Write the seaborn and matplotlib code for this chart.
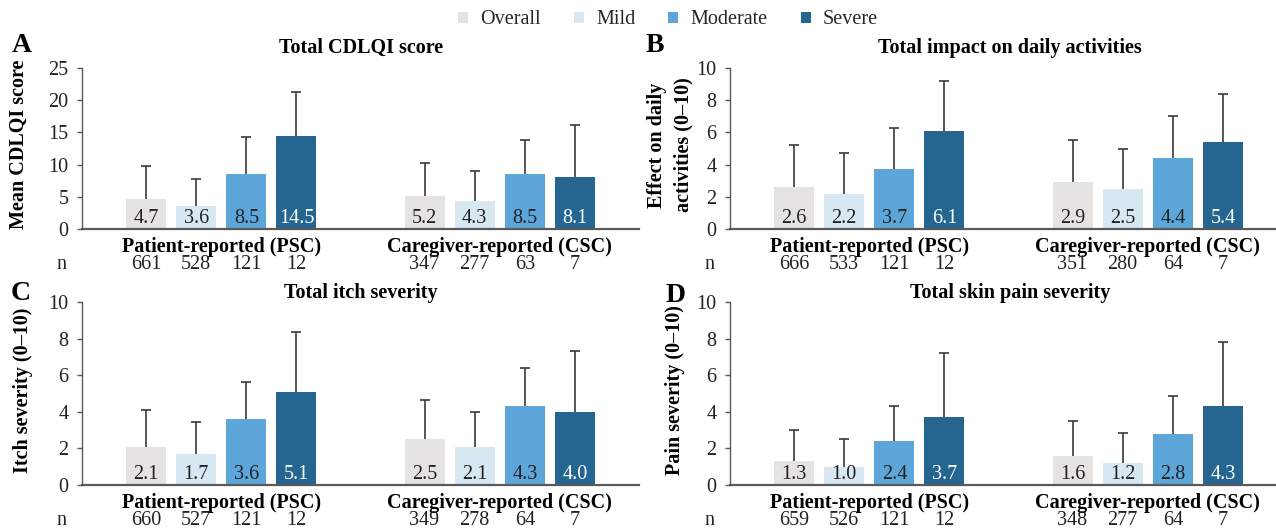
import matplotlib
matplotlib.use("Agg")
import matplotlib.pyplot as plt
from matplotlib.patches import Patch
import seaborn as sns
import pandas as pd

# ---------------- data ----------------
groups = ["Patient-reported (PSC)", "Caregiver-reported (CSC)"]
severities = ["Overall", "Mild", "Moderate", "Severe"]
colors = ["#E4E3E1", "#D7E8F3", "#5DA6DA", "#256690"]

# Panel A: Total CDLQI score
a_mean_psc = [4.7, 3.6, 8.5, 14.5]
a_sd_psc = [5.1, 4.2, 5.8, 6.7]
a_mean_csc = [5.2, 4.3, 8.5, 8.1]
a_sd_csc = [5.1, 4.7, 5.3, 8.1]
a_n_psc = [661, 528, 121, 12]
a_n_csc = [347, 277, 63, 7]

# Panel B: Total impact on daily activities
b_mean_psc = [2.6, 2.2, 3.7, 6.1]
b_sd_psc = [2.6, 2.5, 2.6, 3.1]
b_mean_csc = [2.9, 2.5, 4.4, 5.4]
b_sd_csc = [2.65, 2.5, 2.6, 3.0]
b_n_psc = [666, 533, 121, 12]
b_n_csc = [351, 280, 64, 7]

# Panel C: Total itch severity
c_mean_psc = [2.1, 1.7, 3.6, 5.1]
c_sd_psc = [2.0, 1.75, 2.05, 3.25]
c_mean_csc = [2.5, 2.1, 4.3, 4.0]
c_sd_csc = [2.15, 1.9, 2.1, 3.3]
c_n_psc = [660, 527, 121, 12]
c_n_csc = [349, 278, 64, 7]

# Panel D: Total skin pain severity
d_mean_psc = [1.3, 1.0, 2.4, 3.7]
d_sd_psc = [1.7, 1.5, 1.9, 3.5]
d_mean_csc = [1.6, 1.2, 2.8, 4.3]
d_sd_csc = [1.9, 1.65, 2.05, 3.5]
d_n_psc = [659, 526, 121, 12]
d_n_csc = [348, 277, 64, 7]

panels = [
    dict(letter="A", title="Total CDLQI score", ylabel="Mean CDLQI score",
         mean=(a_mean_psc, a_mean_csc), sd=(a_sd_psc, a_sd_csc), n=(a_n_psc, a_n_csc),
         ymax=25, step=5),
    dict(letter="B", title="Total impact on daily activities",
         ylabel="Effect on daily\nactivities (0\u201310)",
         mean=(b_mean_psc, b_mean_csc), sd=(b_sd_psc, b_sd_csc), n=(b_n_psc, b_n_csc),
         ymax=10, step=2),
    dict(letter="C", title="Total itch severity", ylabel="Itch severity (0\u201310)",
         mean=(c_mean_psc, c_mean_csc), sd=(c_sd_psc, c_sd_csc), n=(c_n_psc, c_n_csc),
         ymax=10, step=2),
    dict(letter="D", title="Total skin pain severity", ylabel="Pain severity (0\u201310)",
         mean=(d_mean_psc, d_mean_csc), sd=(d_sd_psc, d_sd_csc), n=(d_n_psc, d_n_csc),
         ymax=10, step=2),
]

# ---------------- style ----------------
sns.set_theme(style="white")
plt.rcParams["font.family"] = ["Liberation Serif", "DejaVu Serif"]
FS = 14.5
plt.rcParams["font.size"] = FS
TXT = "#222222"
AXC = "#595959"

W, H = 1276, 528
fig = plt.figure(figsize=(W / 100, H / 100), dpi=100)

# axes boxes in pixels: (x_left, x_right, y_top, y_bottom)
boxes = [(82, 639, 68, 229), (730, 1276, 68, 229), (82, 639, 302, 485), (730, 1276, 302, 485)]
title_x = [361, 1010, 361, 1010]
title_y = [48, 48, 293, 293]
letter_xy = [(22, 46), (655, 46), (21, 294), (676, 295)]
ylabel_x = [19, 670, 23, 675]
ylabel_y = [144, 145, 390, 390]
unit_px = 278.5

for p, box, tx, ty, lxy, ylx, yly in zip(panels, boxes, title_x, title_y, letter_xy,
                                         ylabel_x, ylabel_y):
    x0, x1, yt, yb = box
    ax = fig.add_axes([x0 / W, 1 - yb / H, (x1 - x0) / W, (yb - yt) / H])

    rows = []
    for gi, g in enumerate(groups):
        for si, s in enumerate(severities):
            rows.append(dict(group=g, severity=s, mean=p["mean"][gi][si],
                             sd=p["sd"][gi][si], n=p["n"][gi][si]))
    df = pd.DataFrame(rows)

    sns.barplot(data=df, x="group", y="mean", hue="severity", order=groups,
                hue_order=severities, palette=dict(zip(severities, colors)),
                width=0.72, gap=0.2, errorbar=None, legend=False, ax=ax,
                saturation=1, edgecolor="none", linewidth=0)

    ax.set_xlim(-0.5, -0.5 + (x1 - x0) / unit_px)
    ax.set_ylim(0, p["ymax"])
    ax.set_yticks(range(0, p["ymax"] + 1, p["step"]))

    bar_containers = list(ax.containers)
    for si, cont in enumerate(bar_containers):
        s = severities[si]
        sub = df[df.severity == s].set_index("group").loc[groups]
        xs = [b.get_x() + b.get_width() / 2 for b in cont]
        hs = [b.get_height() for b in cont]
        eb = ax.errorbar(xs, hs, yerr=[[0] * len(xs), list(sub["sd"])], fmt="none",
                         ecolor="#3a3a3a", elinewidth=1.2, capsize=3.6, capthick=1.2,
                         zorder=1)
        for cl in eb[1]:
            if list(cl.get_ydata()) == hs:
                cl.set_visible(False)
        for x, v, nval in zip(xs, sub["mean"], sub["n"]):
            ax.annotate(f"{v:.1f}", xy=(x, 0), xytext=(0, 4.5), textcoords="offset points",
                        ha="center", va="baseline", fontsize=FS,
                        color="white" if s == "Severe" else TXT, zorder=4)
            ax.annotate(f"{nval}", xy=(x, 0), xytext=(0, -25.5), textcoords="offset points",
                        ha="center", va="center", fontsize=FS, color=TXT,
                        annotation_clip=False)
    ax.annotate("n", xy=(-0.5, 0), xytext=(-14.5, -25.5), textcoords="offset points",
                ha="center", va="center", fontsize=FS, color=TXT, annotation_clip=False)

    sns.despine(ax=ax)
    ax.spines["left"].set_color(AXC)
    ax.spines["left"].set_linewidth(1.0)
    ax.spines["bottom"].set_color(AXC)
    ax.spines["bottom"].set_linewidth(1.6)
    ax.tick_params(axis="y", left=True, length=3.6, width=1.0, color=AXC, pad=6,
                   labelsize=FS, labelcolor=TXT)
    ax.tick_params(axis="x", length=0, pad=5.5, labelsize=FS, labelcolor="black")
    for lab in ax.get_xticklabels():
        lab.set_fontweight("bold")
    ax.set_xlabel("")
    ax.set_ylabel("")

    fig.text(tx / W, 1 - ty / H, p["title"], ha="center", va="center",
             fontsize=FS, fontweight="bold", color="black")
    fig.text(lxy[0] / W, 1 - lxy[1] / H, p["letter"], ha="center", va="center",
             fontsize=20, fontweight="bold", color="black")
    fig.text(ylx / W, 1 - yly / H, p["ylabel"], rotation=90,
             ha="center", va="center", fontsize=FS, fontweight="bold", color="black",
             linespacing=1.4, multialignment="center")

handles = [Patch(facecolor=c, edgecolor="none", label=s) for s, c in zip(severities, colors)]
fig.legend(handles=handles, loc="center", bbox_to_anchor=(668 / W, 1 - 20 / H), ncol=4,
           frameon=False, fontsize=FS, handlelength=0.5, handleheight=0.5,
           handletextpad=0.6, columnspacing=1.65, borderaxespad=0, borderpad=0)

fig.savefig("out.png", dpi=100)
